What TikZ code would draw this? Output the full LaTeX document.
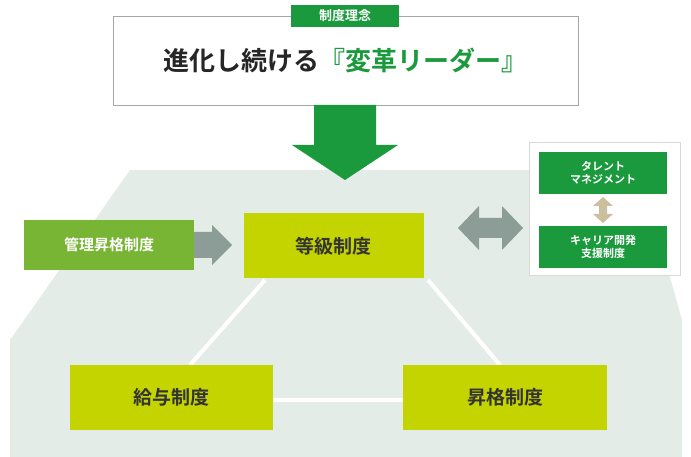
\documentclass[tikz,border=0pt]{standalone}
\usepackage{fontspec}
\setmainfont{Noto Sans CJK JP}[BoldFont=Noto Sans CJK JP Bold]
\usetikzlibrary{positioning}
\definecolor{leaf}{HTML}{1A9A3C}
\definecolor{lime}{HTML}{C3D400}
\definecolor{ground}{HTML}{E4ECE7}
\definecolor{stone}{HTML}{8C9C96}
\definecolor{sand}{HTML}{CBBF9E}
\definecolor{moss}{HTML}{78B534}
\begin{document}
\begin{tikzpicture}[x=1pt,y=-1pt,
		every node/.style={align=center,inner sep=0pt},
		limebox/.style={fill=lime,minimum width=180pt,minimum height=65pt,font=\fontsize{19}{20}\selectfont\bfseries,text=black!80},
		leafbox/.style={fill=leaf,text=white,minimum width=128pt,minimum height=42pt,font=\fontsize{11}{12.5}\selectfont\bfseries}
	]
	\useasboundingbox (0,0) rectangle (691,457);
	% ground
	\fill[ground] (130,170) -- (640,170) -- (682,320) -- (682,457) -- (10,457) -- (10,340) -- cycle;
	% top box
	\node[draw=gray!70,fill=white,minimum width=465pt,minimum height=89pt,font=\fontsize{26}{28}\selectfont\bfseries,text=black!85] (Idea) at (345.5,60.5) {進化し続ける\textcolor{leaf}{『変革リーダー』}};
	\node[fill=leaf,text=white,minimum width=108pt,minimum height=22pt,font=\fontsize{13}{14}\selectfont\bfseries] (Tag) at (345,16) {制度理念};
	% big arrow
	\fill[leaf] (314,105) -- (376,105) -- (376,145) -- (398,145) -- (345,180) -- (292,145) -- (314,145) -- cycle;
	% lines
	\draw[white,line width=4pt] (265,280) -- (190,365) (428,280) -- (500,365) (273,400) -- (403,400);
	% main boxes
	\node[limebox] (Grade) at (333.5,246) {等級制度};
	\node[limebox,minimum width=203pt] (Pay) at (171.5,397) {給与制度};
	\node[limebox,minimum width=204pt] (Promo) at (505,397) {昇格制度};
	% left
	\node[fill=moss,text=white,minimum width=170pt,minimum height=50pt,font=\fontsize{15}{16}\selectfont\bfseries] (Mgmt) at (109,245) {管理昇格制度};
	\fill[stone] (194,232) -- (212,232) -- (212,225) -- (232,245) -- (212,265) -- (212,258) -- (194,258) -- cycle;
	% right panel
	\node[draw=gray!30,fill=white,minimum width=151pt,minimum height=133pt] (Panel) at (604.5,208.5) {};
	\node[leafbox] (Talent) at (603,173) {タレント\\マネジメント};
	\node[leafbox] (Career) at (603,247) {キャリア開発\\支援制度};
	\fill[sand] (603,197) -- (613,206) -- (607,206) -- (607,214) -- (613,214) -- (603,223) -- (593,214) -- (599,214) -- (599,206) -- (593,206) -- cycle;
	\fill[stone] (458,228) -- (479,206) -- (479,218) -- (502,218) -- (502,206) -- (523,228) -- (502,250) -- (502,238) -- (479,238) -- (479,250) -- cycle;
\end{tikzpicture}
\end{document}
